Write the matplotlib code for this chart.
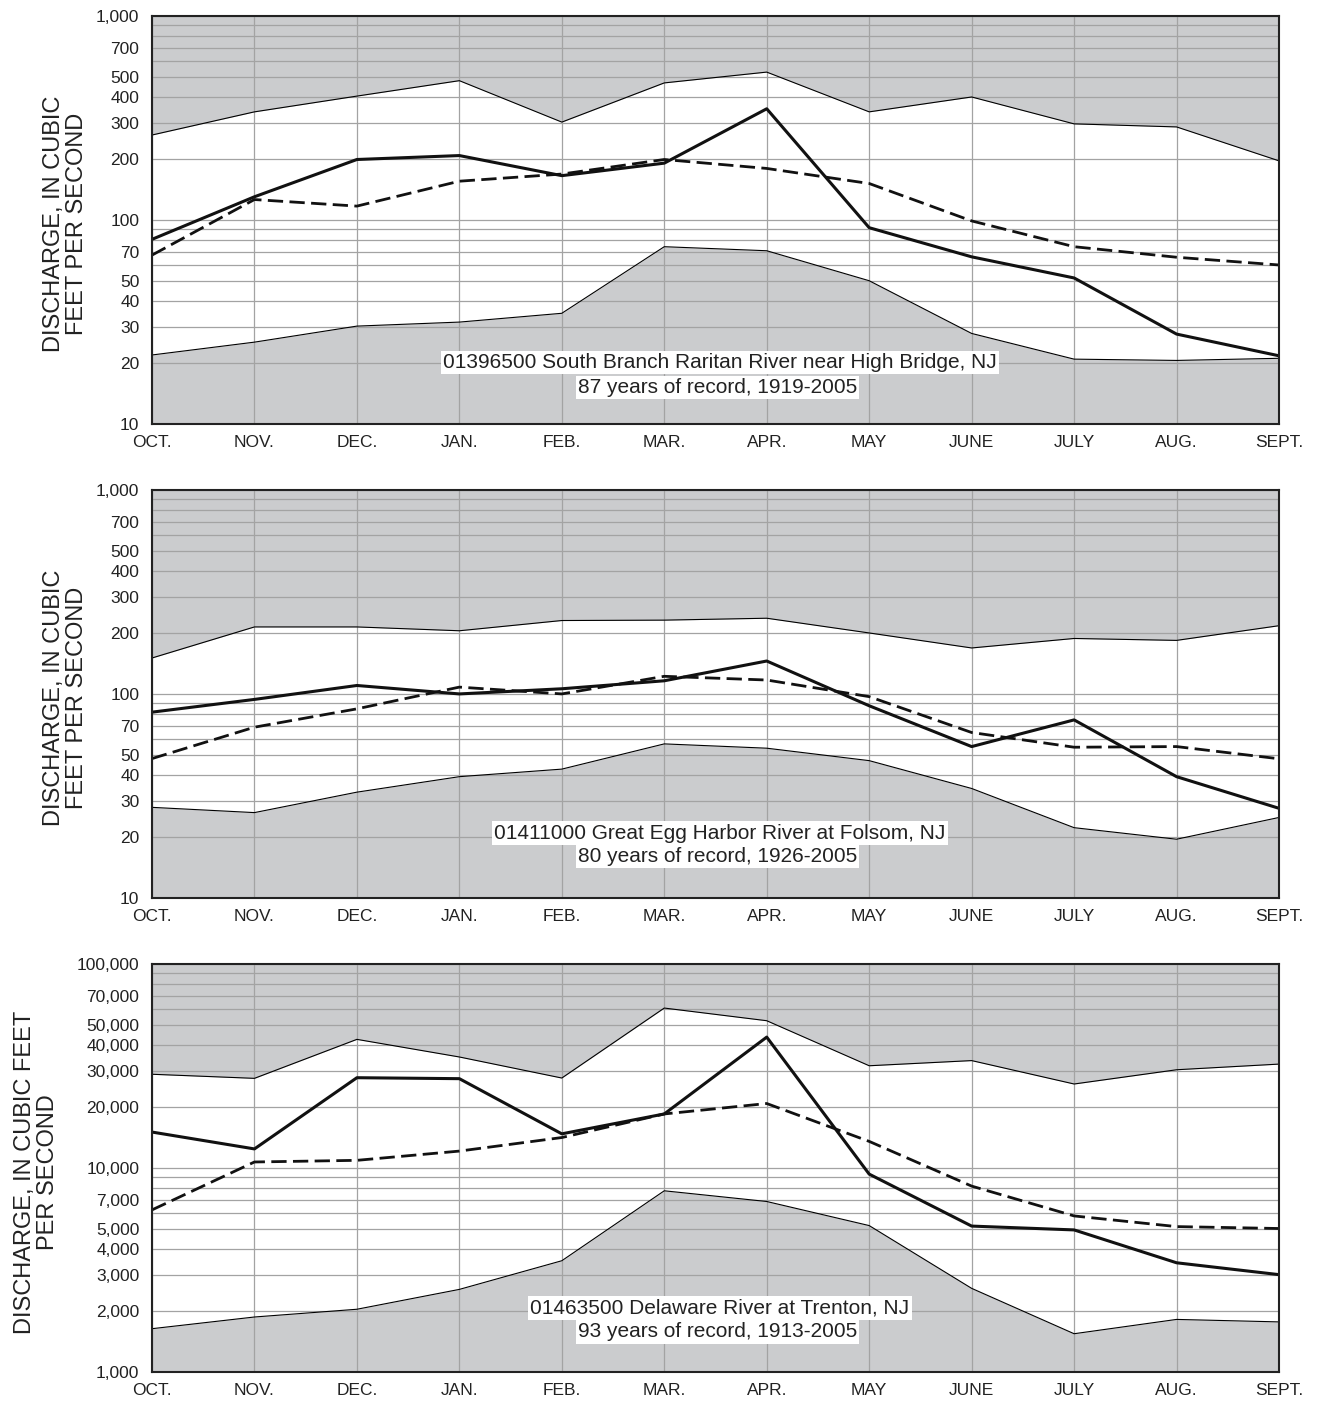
import numpy as np
import matplotlib
matplotlib.use('Agg')
import matplotlib.pyplot as plt
from matplotlib.ticker import FixedLocator, NullFormatter, LogLocator

plt.rcParams['font.family'] = ['Liberation Sans', 'DejaVu Sans']

months = ['OCT.', 'NOV.', 'DEC.', 'JAN.', 'FEB.', 'MAR.', 'APR.', 'MAY', 'JUNE', 'JULY', 'AUG.', 'SEPT.']

# South Branch Raritan River near High Bridge
raritan_max = [261, 339, 405, 482, 302, 470, 531, 339, 401, 296, 286, 195]
raritan_min = [21.8, 25.2, 30.2, 31.6, 34.9, 74, 70.7, 50.4, 27.8, 20.8, 20.5, 21.0]
raritan_2005 = [80.4, 130, 198, 207, 165, 190, 351, 91.7, 66, 52, 27.6, 21.6]
raritan_mean = [67.3, 126, 117, 155, 168, 198, 179, 151, 99, 74, 65.7, 60.2]

# Great Egg Harbor River at Folsom
egg_max = [150, 213, 213, 204, 229, 230, 235, 199, 168, 187, 183, 216]
egg_min = [27.8, 26.2, 33, 39.3, 42.8, 56.9, 54.2, 47.1, 34.4, 22.1, 19.4, 24.8]
egg_2005 = [81.4, 94, 110, 100, 106, 116, 145, 87.5, 55.2, 74.6, 39.3, 27.5]
egg_mean = [48.2, 68.7, 84.5, 108, 100, 122, 117, 97, 64.7, 54.8, 55.2, 48.1]

# Delaware River at Trenton
trenton_max = [28800, 27500, 42700, 35000, 27600, 60800, 52700, 31700, 33600, 25800, 30300, 32300]
trenton_min = [1630, 1860, 2030, 2540, 3510, 7730, 6850, 5220, 2570, 1540, 1810, 1760]
trenton_2005 = [15000, 12400, 27700, 27400, 14700, 18400, 43800, 9330, 5190, 4970, 3430, 3000]
trenton_mean = [6230, 10700, 10900, 12100, 14100, 18400, 20700, 13500, 8150, 5820, 5160, 5050]

small_ticks = [10, 20, 30, 40, 50, 70, 100, 200, 300, 400, 500, 700, 1000]
big_ticks = [1000, 2000, 3000, 4000, 5000, 7000, 10000, 20000, 30000, 40000, 50000, 70000, 100000]

panels = [
    (raritan_max, raritan_min, raritan_2005, raritan_mean, (10, 1000), small_ticks,
     '01396500 South Branch Raritan River near High Bridge, NJ', '87 years of record, 1919-2005',
     'DISCHARGE, IN CUBIC\nFEET PER SECOND'),
    (egg_max, egg_min, egg_2005, egg_mean, (10, 1000), small_ticks,
     '01411000 Great Egg Harbor River at Folsom, NJ', '80 years of record, 1926-2005',
     'DISCHARGE, IN CUBIC\nFEET PER SECOND'),
    (trenton_max, trenton_min, trenton_2005, trenton_mean, (1000, 100000), big_ticks,
     '01463500 Delaware River at Trenton, NJ', '93 years of record, 1913-2005',
     'DISCHARGE, IN CUBIC FEET\nPER SECOND'),
]

fig = plt.figure(figsize=(13.25, 14.05), dpi=100)
bottoms = [0.6982, 0.3609, 0.0235]
title_y = [(0.150, 0.090), (0.159, 0.101), (0.157, 0.098)]
fill_color = '#cbccce'
x = np.arange(len(months))

for k, (vmax, vmin, v2005, vmean, ylim, ticks, title1, title2, ylab) in enumerate(panels):
    ax = fig.add_axes([0.1147, bottoms[k], 0.8506, 0.2904])
    ax.set_yscale('log')
    ax.set_xlim(0, 11)
    ax.set_ylim(*ylim)

    # gray bands outside the range of record
    ax.fill_between(x, vmax, ylim[1], color=fill_color, lw=0, zorder=1)
    ax.fill_between(x, ylim[0], vmin, color=fill_color, lw=0, zorder=1)
    ax.plot(x, vmax, color='black', lw=0.8, zorder=3)
    ax.plot(x, vmin, color='black', lw=0.8, zorder=3)
    ax.plot(x, vmean, color='#111111', lw=2.0, dashes=(5.5, 2.3), zorder=4)
    ax.plot(x, v2005, color='#111111', lw=2.2, zorder=5)

    ax.set_xticks(x)
    ax.set_xticklabels(months, fontsize=12.5, color='#222222')
    ax.yaxis.set_major_locator(FixedLocator(ticks))
    ax.set_yticklabels([f'{t:,}' for t in ticks], fontsize=12.5, color='#222222')
    ax.yaxis.set_minor_locator(LogLocator(base=10, subs=np.arange(2, 10)))
    ax.yaxis.set_minor_formatter(NullFormatter())
    ax.tick_params(axis='both', which='both', length=0)
    ax.tick_params(axis='x', pad=8)
    ax.tick_params(axis='y', pad=9)

    ax.grid(True, which='both', axis='y', color='#a3a3a3', lw=0.9, zorder=2)
    ax.grid(True, which='major', axis='x', color='#a3a3a3', lw=0.9, zorder=2)
    for s in ax.spines.values():
        s.set_color('#222222')
        s.set_linewidth(1.5)
        s.set_zorder(6)

    ty1, ty2 = title_y[k]
    ax.text(0.504, ty1, title1, transform=ax.transAxes, ha='center', va='center',
            fontsize=15, color='#222222', zorder=7,
            bbox=dict(facecolor='white', edgecolor='none', pad=1.5))
    ax.text(0.502, ty2, title2, transform=ax.transAxes, ha='center', va='center',
            fontsize=15, color='#222222', zorder=7,
            bbox=dict(facecolor='white', edgecolor='none', pad=1.5))

    xlab = -0.0765 if k < 2 else -0.1025
    ax.text(xlab, 0.49, ylab, transform=ax.transAxes, rotation=90, ha='center', va='center',
            fontsize=17, color='#222222', linespacing=1.05, multialignment='center')

fig.savefig('out.png', dpi=100)
